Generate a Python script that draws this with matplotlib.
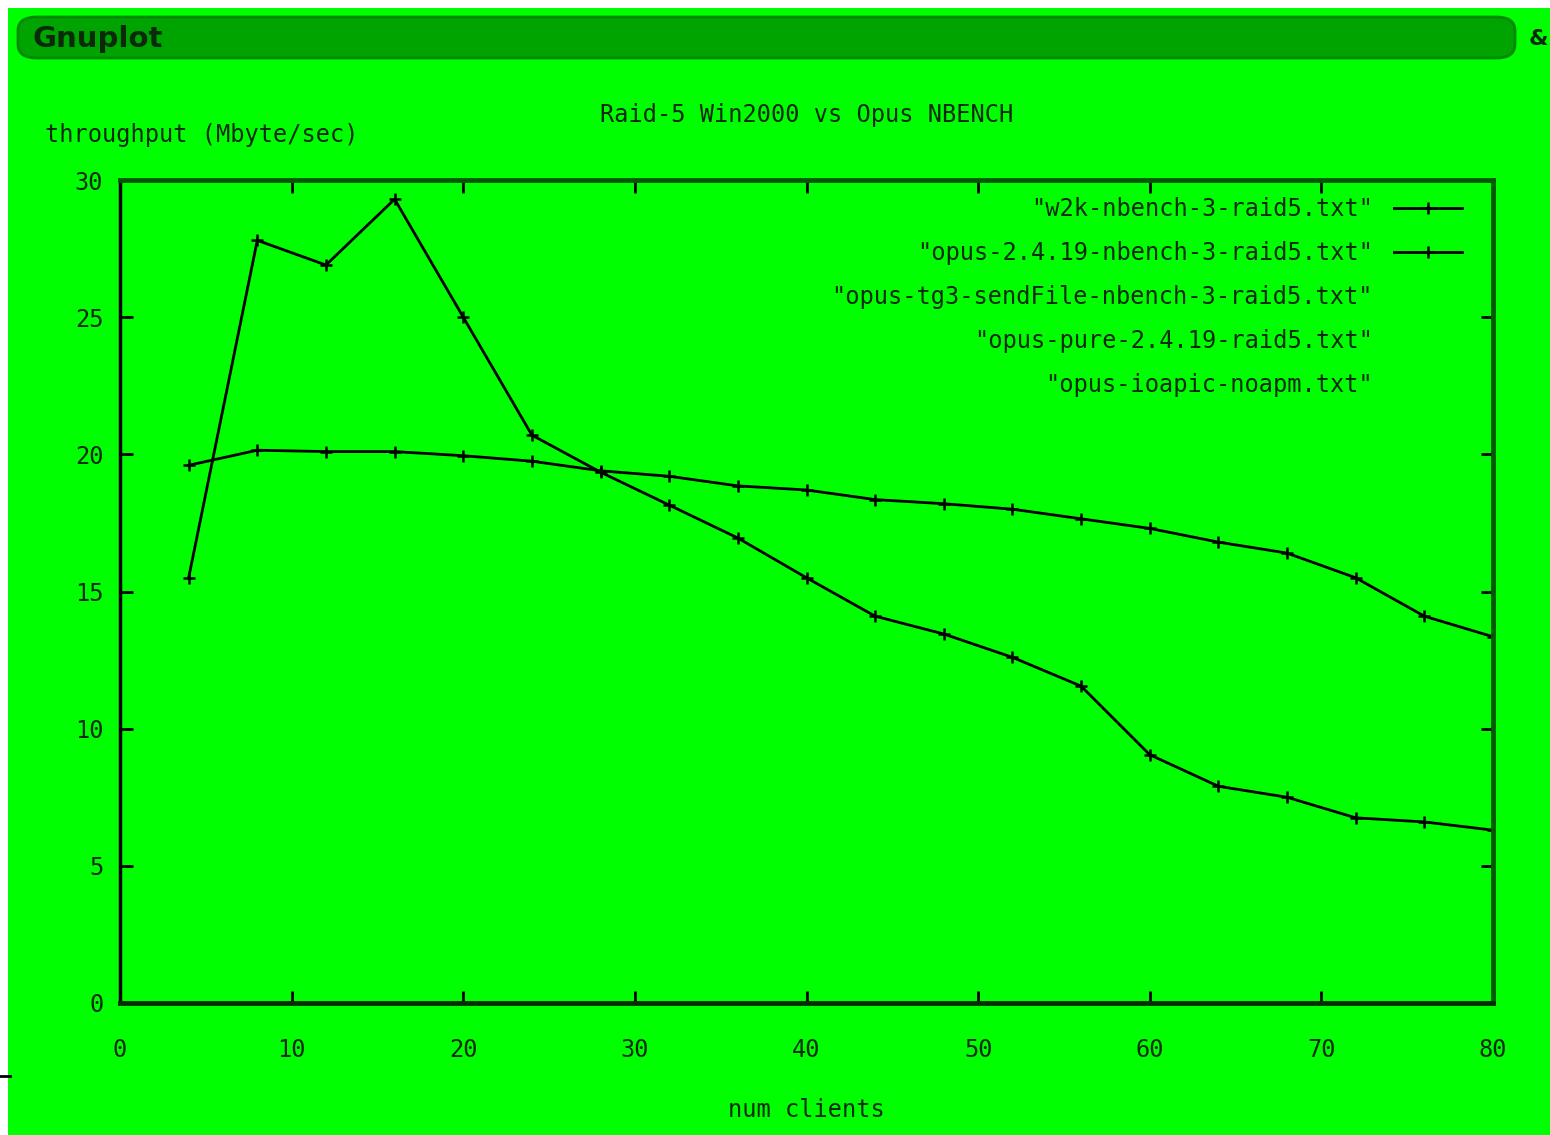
import matplotlib
matplotlib.use("Agg")
import matplotlib.pyplot as plt
from matplotlib.patches import Rectangle, FancyBboxPatch
from matplotlib.lines import Line2D

# ── データ ───────────────────────────────────────────────────────
num_clients = [4, 8, 12, 16, 20, 24, 28, 32, 36, 40,
               44, 48, 52, 56, 60, 64, 68, 72, 76, 80]
w2k_raid5 = [15.5, 27.8, 26.9, 29.3, 25.0, 20.7, 19.35, 18.15, 16.95, 15.5,
             14.1, 13.45, 12.6, 11.55, 9.05, 7.9, 7.5, 6.75, 6.6, 6.3]
opus_2419_raid5 = [19.6, 20.15, 20.1, 20.1, 19.95, 19.75, 19.4, 19.2, 18.85, 18.7,
                   18.35, 18.2, 18.0, 17.65, 17.3, 16.8, 16.4, 15.5, 14.1, 13.35]
legend_labels = [
    '"w2k-nbench-3-raid5.txt"',
    '"opus-2.4.19-nbench-3-raid5.txt"',
    '"opus-tg3-sendFile-nbench-3-raid5.txt"',
    '"opus-pure-2.4.19-raid5.txt"',
    '"opus-ioapic-noapm.txt"',
]
x_ticks = [0, 10, 20, 30, 40, 50, 60, 70, 80]
y_ticks = [0, 5, 10, 15, 20, 25, 30]

W, H = 1550, 1135
GREEN = "#00ff00"
TXT = "#0c2a0c"
FRAME = "#005a00"
MONO = "DejaVu Sans Mono"
FS = 17


def fx(px):
    return px / W


def fy(py):
    return 1 - py / H


fig = plt.figure(figsize=(W / 100, H / 100), dpi=100)
fig.patch.set_facecolor("white")

# ウィンドウ背景とタイトルバー
fig.add_artist(Rectangle((fx(8), 0), 1 - fx(8), fy(8), transform=fig.transFigure,
                         facecolor=GREEN, edgecolor="none", zorder=0))
fig.add_artist(FancyBboxPatch((fx(18), fy(58)), fx(1515) - fx(18), fy(17) - fy(58),
                              boxstyle="round,pad=0,rounding_size=0.012",
                              transform=fig.transFigure, facecolor="#00a400",
                              edgecolor="#008a00", linewidth=2, zorder=1))
fig.text(fx(33), fy(39), "Gnuplot", fontsize=21, fontweight="bold",
         color="#0a2a0a", ha="left", va="center", family="DejaVu Sans")
fig.text(fx(1548), fy(39), "&", fontsize=16, fontweight="bold",
         color="#0a2a0a", ha="right", va="center")
fig.add_artist(Line2D([0, fx(10)], [fy(1076), fy(1076)], transform=fig.transFigure,
                      color="black", linewidth=2))

# ── プロット領域 ────────────────────────────────────────────────────────────
ax_left, ax_right, ax_top, ax_bottom = 120, 1493, 180, 1003
ax = fig.add_axes([fx(ax_left), fy(ax_bottom),
                   fx(ax_right) - fx(ax_left), fy(ax_top) - fy(ax_bottom)])
ax.set_facecolor(GREEN)

line_kw = dict(color="black", linewidth=2.0, marker="+", markersize=8,
               markeredgewidth=1.8)
h1, = ax.plot(num_clients, w2k_raid5, **line_kw)
h2, = ax.plot(num_clients, opus_2419_raid5, **line_kw)
empty = [Line2D([], [], color="none") for _ in range(3)]

ax.set_xlim(0, 80)
ax.set_ylim(0, 30)
ax.set_xticks(x_ticks)
ax.set_yticks(y_ticks)
ax.tick_params(direction="in", length=9, width=2, top=True, right=True,
               labelsize=FS, labelcolor=TXT, color="black")
ax.tick_params(axis="x", pad=25)
ax.tick_params(axis="y", pad=12)
for lab in ax.get_xticklabels() + ax.get_yticklabels():
    lab.set_family(MONO)

ax.spines["left"].set_color("black")
ax.spines["left"].set_linewidth(2.5)
for side in ("top", "right", "bottom"):
    ax.spines[side].set_color(FRAME)
    ax.spines[side].set_linewidth(3.5)
ax.spines["bottom"].set_color("#003000")

# 凡例（gnuplot 風：ラベル右寄せ、サンプル線は右側）
ax_w = ax_right - ax_left
ax_h = ax_bottom - ax_top
leg = ax.legend([h1, h2] + empty, legend_labels, loc="upper right",
                bbox_to_anchor=((1462 - ax_left) / ax_w, (ax_bottom - 197) / ax_h),
                markerfirst=False, frameon=False, handlelength=2.9,
                handletextpad=0.88, labelspacing=0.85, borderaxespad=0,
                borderpad=0, prop={"family": MONO, "size": FS})
for t in leg.get_texts():
    t.set_color(TXT)

fig.text(fx(807), fy(115), "Raid-5 Win2000 vs Opus NBENCH", ha="center", va="center",
         fontsize=FS, family=MONO, color=TXT)
fig.text(fx(45), fy(135), "throughput (Mbyte/sec)", ha="left", va="center",
         fontsize=FS, family=MONO, color=TXT)
fig.text(fx(806), fy(1110), "num clients", ha="center", va="center",
         fontsize=FS, family=MONO, color=TXT)

fig.savefig("out.png", dpi=100, facecolor=fig.get_facecolor())
